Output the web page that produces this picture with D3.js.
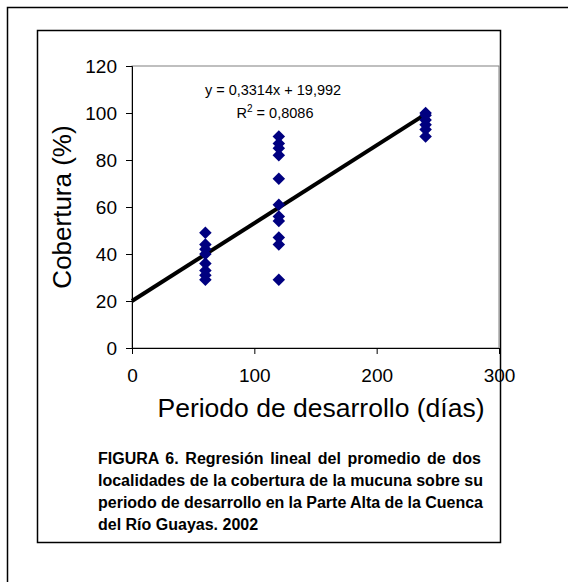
<!DOCTYPE html>
<html><head><meta charset="utf-8">
<script src="https://cdn.jsdelivr.net/npm/d3@7"></script>
<style>body{margin:0;background:#fff}svg{display:block;font-family:Arial,"Liberation Sans",sans-serif}</style>
</head><body>
<script>
const days60 = [49, 44, 42, 40, 36, 33, 31, 29];
const days120 = [90, 87, 85, 82, 72, 61, 56, 54, 47, 44, 29];
const days240 = [100, 99, 97, 95, 93, 90];
const groupX = [60, 120, 240];
const xTicks = [0, 100, 200, 300];
const yTicks = [0, 20, 40, 60, 80, 100, 120];
const slope = [0.3314], intercept = [19.992];
const lineRange = [0, 240];
const eqText = ["y = 0,3314x + 19,992", "R", "2", " = 0,8086"];
const caption = [
  "FIGURA 6.  Regresión lineal del promedio de dos",
  "localidades de la cobertura de la mucuna sobre su",
  "periodo de desarrollo en la Parte Alta de la Cuenca",
  "del Río Guayas. 2002"
];

const W = 568, H = 582;
const FONT = "Arial, 'Liberation Sans', sans-serif";
const svg = d3.select("body").append("svg").attr("width", W).attr("height", H);
// outer frame (cropped)
svg.append("path").attr("d", `M7.5,${H} V7.5 H${W}`).attr("fill","none").attr("stroke","#000").attr("stroke-width",1.5);
// inner frame
svg.append("rect").attr("x",37.5).attr("y",30.5).attr("width",463).attr("height",512).attr("fill","none").attr("stroke","#000").attr("stroke-width",1.5);

const x = d3.scaleLinear().domain([0,300]).range([132,499]);
const y = d3.scaleLinear().domain([0,120]).range([348,66]);

// plot area border
svg.append("rect").attr("x",x(0)).attr("y",y(120)).attr("width",x(300)-x(0)).attr("height",y(0)-y(120))
  .attr("fill","none").attr("stroke","#808080").attr("stroke-width",1);

const yAx = svg.append("g").attr("transform",`translate(${x(0)},0)`)
  .call(d3.axisLeft(y).tickValues(yTicks).tickSize(6).tickPadding(9));
const xAx = svg.append("g").attr("transform",`translate(0,${y(0)})`)
  .call(d3.axisBottom(x).tickValues(xTicks).tickSize(6).tickPadding(15));
[yAx,xAx].forEach(g=>{
  g.select(".domain").attr("stroke","#000");
  g.selectAll(".tick line").attr("stroke","#000");
  g.selectAll("text").attr("font-size",19).attr("fill","#000").attr("font-family",FONT);
});

// regression line
const lineGen = d3.line().x(d=>x(d)).y(d=>y(slope[0]*d+intercept[0]));
svg.append("path").attr("d", lineGen(lineRange)).attr("stroke","#000").attr("stroke-width",4).attr("fill","none");

// points
const pts = [];
[days60, days120, days240].forEach((arr,i)=>arr.forEach(v=>pts.push({x:groupX[i], y:v})));
const sym = d3.symbol().type(d3.symbolDiamond2).size(100);
svg.append("g").selectAll("path").data(pts).join("path")
  .attr("d", sym).attr("transform", d=>`translate(${x(d.x)},${y(d.y)})`)
  .attr("fill","#000080");

// equation
svg.append("text").attr("x",273).attr("y",95).attr("text-anchor","middle").attr("font-size",14.5).text(eqText[0]);
const r2 = svg.append("text").attr("x",275).attr("y",118).attr("text-anchor","middle").attr("font-size",14.5);
r2.append("tspan").text(eqText[1]);
r2.append("tspan").attr("dy",-6).attr("font-size",10).text(eqText[2]);
r2.append("tspan").attr("dy",6).text(eqText[3]);

// axis titles
svg.append("text").attr("transform","translate(71,207) rotate(-90)").attr("text-anchor","middle")
  .attr("font-size",26).text("Cobertura (%)");
svg.append("text").attr("x",321).attr("y",417).attr("text-anchor","middle").attr("font-size",26.5)
  .text("Periodo de desarrollo (días)");

// caption (justified via word spacing)
const capX0 = 98, capX1 = 483;
caption.forEach((t,i)=>{
  const el = svg.append("text").attr("x",capX0).attr("y",464+i*22).attr("font-size",16)
    .attr("font-weight","bold").attr("font-family",FONT).text(t);
  if(i<caption.length-1){
    const w = el.node().getComputedTextLength();
    const n = (t.match(/ /g)||[]).length;
    el.attr("word-spacing", ((capX1-capX0)-w)/n);
  }
});
</script>
</body></html>
